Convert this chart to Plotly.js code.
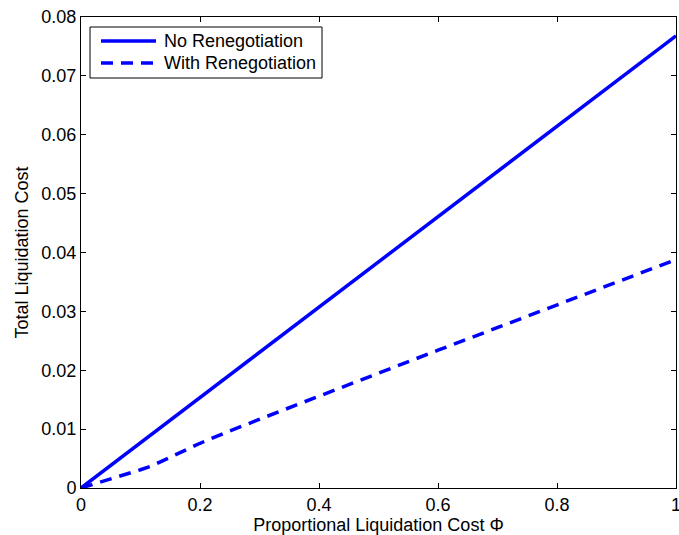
<!DOCTYPE html>
<html>
<head>
<meta charset="utf-8">
<script src="https://cdn.plot.ly/plotly-3.0.1.min.js"></script>
<style>html,body{margin:0;padding:0;background:#fff;}#chart{width:679px;height:535px;}</style>
</head>
<body>
<div id="chart"></div>
<script>
const phiNo = [0, 1];
const costNo = [0, 0.0768];
const phiWith = [0, 0.05, 0.1, 0.12, 0.15, 0.2, 0.25, 0.3, 0.4, 0.6, 0.8, 1.0];
const costWith = [0, 0.0015, 0.0031, 0.0038, 0.0052, 0.0076, 0.0097, 0.0117, 0.0156, 0.0234, 0.0311, 0.0388];
const seriesNames = ["No Renegotiation", "With Renegotiation"];
const xTicks = [0, 0.2, 0.4, 0.6, 0.8, 1];
const xTickText = ["0", "0.2", "0.4", "0.6", "0.8", "1"];
const yTicks = [0, 0.01, 0.02, 0.03, 0.04, 0.05, 0.06, 0.07, 0.08];
const yTickText = ["0", "0.01", "0.02", "0.03", "0.04", "0.05", "0.06", "0.07", "0.08"];

const font = {family: "Liberation Sans, Arial, sans-serif", size: 18, color: "#000"};
const W = 679, H = 535;
const M = {l: 81, r: 3, t: 17, b: 47};
const pw = W - M.l - M.r, ph = H - M.t - M.b;
// convert page pixels to paper coordinates (for the legend box)
const px = v => (v - M.l) / pw;
const py = v => (H - M.b - v) / ph;

const dashes = ["solid", "12px,8px"];
const traces = [
  {x: phiNo, y: costNo, mode: "lines", name: seriesNames[0],
   line: {color: "#0000ff", width: 3.5, dash: dashes[0]}},
  {x: phiWith, y: costWith, mode: "lines", name: seriesNames[1],
   line: {color: "#0000ff", width: 3.5, dash: dashes[1]}}
];

// custom legend (box, samples, labels)
const legendRows = [41, 63];
const shapes = [{type: "rect", xref: "paper", yref: "paper",
  x0: px(90), x1: px(322), y0: py(27), y1: py(78),
  line: {color: "#000", width: 1}, fillcolor: "#fff", layer: "above"}];
const annotations = [];
seriesNames.forEach((n, i) => {
  shapes.push({type: "line", xref: "paper", yref: "paper",
    x0: px(101), x1: px(156), y0: py(legendRows[i]), y1: py(legendRows[i]),
    line: {color: "#0000ff", width: 3.5, dash: dashes[i]}, layer: "above"});
  annotations.push({xref: "paper", yref: "paper", x: px(162), y: py(legendRows[i]),
    xanchor: "left", yanchor: "middle", text: n, showarrow: false, font: font});
});

const axisCommon = {
  showline: true, linecolor: "#000", linewidth: 1, mirror: "ticks",
  ticks: "inside", ticklen: 5, tickwidth: 1, tickcolor: "#000",
  showgrid: false, zeroline: false, tickfont: font,
  ticklabeloverflow: "allow"
};

const layout = {
  width: W, height: H,
  margin: M,
  paper_bgcolor: "#fff", plot_bgcolor: "#fff",
  font: font,
  showlegend: false,
  shapes: shapes,
  annotations: annotations,
  xaxis: Object.assign({}, axisCommon, {
    range: [0, 1], tickvals: xTicks, ticktext: xTickText,
    title: {text: "Proportional Liquidation Cost \u03a6", font: font, standoff: 2}
  }),
  yaxis: Object.assign({}, axisCommon, {
    range: [0, 0.08], tickvals: yTicks, ticktext: yTickText,
    title: {text: "Total Liquidation Cost", font: font, standoff: 8}
  })
};

Plotly.newPlot("chart", traces, layout, {displayModeBar: false, staticPlot: true});
</script>
</body>
</html>
